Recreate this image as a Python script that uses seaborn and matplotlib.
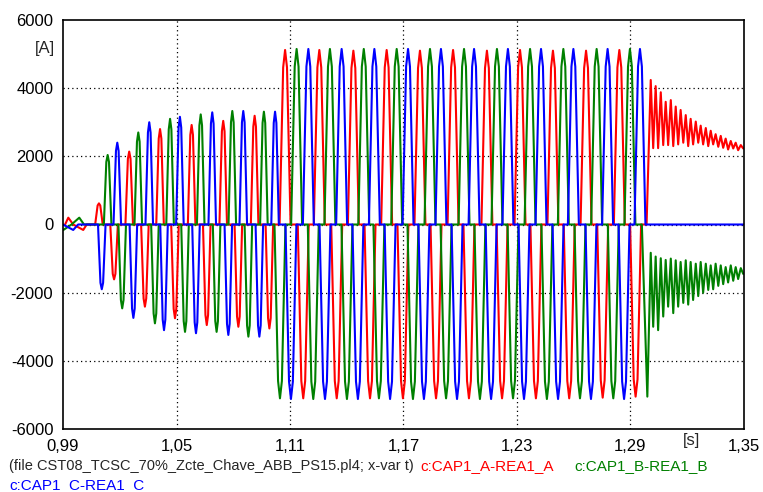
import matplotlib
matplotlib.use("Agg")
import numpy as np
import pandas as pd
import matplotlib.pyplot as plt
import seaborn as sns

# ---- data (time in s, current in A) ----
# small currents before the first conduction
red_pre_t = [0.9911, 0.9928, 0.9954, 1.0007, 1.0025]
red_pre_v = [0, 200, 0, -160, 0]
green_pre_t = [0.9902, 0.9945, 0.9986, 1.0011]
green_pre_v = [-160, 0, 200, 0]
blue_pre_t = [0.9900, 0.9954, 0.9980]
blue_pre_v = [0, -160, 0]

# conduction pulses: peak time and peak current
red_pulse_t = [1.0090, 1.0170, 1.0250, 1.0333, 1.0413, 1.0492, 1.0580, 1.0660,
               1.0747, 1.0827, 1.0913, 1.0991, 1.1074, 1.1170, 1.1255, 1.1347,
               1.1435, 1.1523, 1.1611, 1.1697, 1.1787, 1.1872, 1.1962, 1.2046,
               1.2141, 1.2221, 1.2316, 1.2400, 1.2490, 1.2576, 1.2665, 1.2753,
               1.2841, 1.2927]
red_pulse_v = [620, -1610, 2140, -2410, 2800, -2750, 2920, -2950,
               3040, -3000, 3190, -3050, 5120, -5100, 5120, -5100,
               5100, -5100, 5120, -5100, 5100, -5100, 5120, -5100,
               5100, -5100, 5120, -5100, 5100, -5100, 5100, -5080,
               5120, -5050]

green_pulse_t = [1.0136, 1.0213, 1.0298, 1.0386, 1.0466, 1.0545, 1.0628, 1.0712,
                 1.0795, 1.0880, 1.0962, 1.1047, 1.1135, 1.1223, 1.1311, 1.1401,
                 1.1490, 1.1570, 1.1664, 1.1750, 1.1840, 1.1925, 1.2020, 1.2104,
                 1.2194, 1.2279, 1.2369, 1.2458, 1.2545, 1.2633, 1.2721, 1.2809,
                 1.2897]
green_pulse_v = [2040, -2460, 2700, -2900, 3100, -3150, 3230, -3150,
                 3330, -3290, 3310, -5100, 5150, -5120, 5150, -5120,
                 5150, -5100, 5150, -5120, 5150, -5100, 5150, -5120,
                 5150, -5100, 5150, -5120, 5150, -5100, 5150, -5100,
                 5150]

blue_pulse_t = [1.0105, 1.0187, 1.0272, 1.0356, 1.0434, 1.0518, 1.0603, 1.0689,
                1.0774, 1.0853, 1.0938, 1.1021, 1.1105, 1.1197, 1.1285, 1.1373,
                1.1459, 1.1546, 1.1629, 1.1724, 1.1808, 1.1898, 1.1983, 1.2073,
                1.2163, 1.2252, 1.2337, 1.2427, 1.2517, 1.2598, 1.2691, 1.2779,
                1.2866, 1.2950]
blue_pulse_v = [-1900, 2400, -2740, 3000, -3100, 3160, -3190, 3290,
                -3240, 3330, -3290, 3310, -5120, 5150, -5120, 5150,
                -5120, 5150, -5120, 5150, -5120, 5150, -5120, 5150,
                -5120, 5150, -5120, 5150, -5120, 5150, -5120, 5150,
                -5120, 5150]

# ringing after the bypass (peaks and troughs)
red_tail_t = [1.2985, 1.3007, 1.3020, 1.3033, 1.3046, 1.3060, 1.3073, 1.3086, 1.3099,
              1.3113, 1.3126, 1.3139, 1.3152, 1.3165, 1.3179, 1.3192, 1.3205,
              1.3218, 1.3231, 1.3245, 1.3258, 1.3271, 1.3284, 1.3298, 1.3311,
              1.3324, 1.3337, 1.3350, 1.3364, 1.3377, 1.3390, 1.3403, 1.3416,
              1.3430, 1.3443, 1.3456, 1.3469, 1.3483, 1.3496]
red_tail_v = [0, 4240, 2240, 4060, 2240, 3880, 2330, 3600, 2330, 3650, 2300,
              3460, 2350, 3360, 2400, 3210, 2300, 3100, 2350, 3020, 2400,
              2900, 2350, 2830, 2300, 2750, 2350, 2650, 2280, 2600, 2250,
              2520, 2200, 2450, 2230, 2400, 2180, 2330, 2230]

green_tail_t = [1.2960, 1.2989, 1.3007, 1.3020, 1.3033, 1.3046, 1.3060, 1.3073, 1.3086,
                1.3099, 1.3113, 1.3126, 1.3139, 1.3152, 1.3165, 1.3179, 1.3192,
                1.3205, 1.3218, 1.3231, 1.3245, 1.3258, 1.3271, 1.3284, 1.3298,
                1.3311, 1.3324, 1.3337, 1.3350, 1.3364, 1.3377, 1.3390, 1.3403,
                1.3416, 1.3430, 1.3443, 1.3456, 1.3469, 1.3483, 1.3496]
green_tail_v = [0, -5050, -830, -3000, -940, -3100, -990, -2700, -1040, -2410,
                -1000, -2600, -1050, -2410, -1100, -2300, -1050, -2350, -1100,
                -2215, -1150, -2100, -1100, -2000, -1150, -1920, -1200, -1900,
                -1150, -1800, -1200, -1750, -1250, -1700, -1200, -1650, -1250,
                -1600, -1280, -1450]

blue_tail_t = [1.3500]
blue_tail_v = [0]

x_ticks = [0.99, 1.05, 1.11, 1.17, 1.23, 1.29, 1.35]
y_ticks = [-6000, -4000, -2000, 0, 2000, 4000, 6000]
colors = {"A": "#ff0000", "B": "#008000", "C": "#0000ff"}

HW_START = 0.0020   # half width of the early, smaller pulses
HW_STEADY = 0.0029  # half width of the full pulses


def build_wave(pre_t, pre_v, pulse_t, pulse_v, tail_t, tail_v):
    ts, vs = list(pre_t), list(pre_v)
    for tc, pk in zip(pulse_t, pulse_v):
        hw = HW_STEADY if abs(pk) > 4000 else HW_START
        ts += [tc - hw, tc - 0.35 * hw, tc, tc + 0.35 * hw, tc + hw]
        vs += [0, 0.9 * pk, pk, 0.9 * pk, 0]
    if tail_t and tail_t[0] < ts[-1]:
        # the last pulse runs straight into the ringing
        ts, vs = ts[:-3], vs[:-3]
        tail_t, tail_v = tail_t[2:], tail_v[2:]
    ts += tail_t
    vs += tail_v
    return ts, vs


frames = []
for name, args in [("A", (red_pre_t, red_pre_v, red_pulse_t, red_pulse_v, red_tail_t, red_tail_v)),
                   ("B", (green_pre_t, green_pre_v, green_pulse_t, green_pulse_v, green_tail_t, green_tail_v)),
                   ("C", (blue_pre_t, blue_pre_v, blue_pulse_t, blue_pulse_v, blue_tail_t, blue_tail_v))]:
    t, v = build_wave(*args)
    frames.append(pd.DataFrame({"t": t, "i": v, "phase": name}))
df = pd.concat(frames, ignore_index=True)

sns.set_style("white")
plt.rcParams["font.family"] = ["Liberation Sans", "DejaVu Sans"]

fig = plt.figure(figsize=(7.63, 4.92), dpi=100)
ax = fig.add_axes([63 / 763, 1 - 429 / 492, 681 / 763, 409 / 492])

for name in ["A", "B", "C"]:
    sns.lineplot(data=df[df["phase"] == name], x="t", y="i", color=colors[name],
                 sort=False, estimator=None, linewidth=1.5, ax=ax, legend=False)

ax.set_xlim(0.99, 1.35)
ax.set_ylim(-6000, 6000)
ax.set_xticks(x_ticks)
ax.set_xticklabels([f"{x:.2f}".replace(".", ",") for x in x_ticks])
ax.set_yticks(y_ticks)
ax.set_yticklabels([str(y) for y in y_ticks])
ax.set_xlabel("")
ax.set_ylabel("")
ax.tick_params(direction="out", length=5, width=1, colors="black", labelsize=12, pad=2)
for s in ax.spines.values():
    s.set_color("black")
    s.set_linewidth(1.2)

for x in x_ticks[1:-1]:
    ax.axvline(x, color="black", linestyle=(0, (1, 2.5)), linewidth=0.9, zorder=0)
for y in y_ticks[1:-1]:
    ax.axhline(y, color="black", linestyle=(0, (1, 2.5)), linewidth=0.9, zorder=0)

fig.text(45 / 763, 1 - 48 / 492, "[A]", ha="center", va="center", fontsize=12)
fig.text(691 / 763, 1 - 441 / 492, "[s]", ha="center", va="center", fontsize=12)

fig.text(9 / 763, 1 - 466 / 492, "(file CST08_TCSC_70%_Zcte_Chave_ABB_PS15.pl4; x-var t)",
         ha="left", va="center", fontsize=10.5)
fig.text(420 / 763, 1 - 466 / 492, "c:CAP1_A-REA1_A", color=colors["A"], ha="left", va="center", fontsize=11)
fig.text(574 / 763, 1 - 466 / 492, "c:CAP1_B-REA1_B", color=colors["B"], ha="left", va="center", fontsize=11)
fig.text(9 / 763, 1 - 485 / 492, "c:CAP1_C-REA1_C", color=colors["C"], ha="left", va="center", fontsize=11)

fig.savefig("out.png", dpi=100)
